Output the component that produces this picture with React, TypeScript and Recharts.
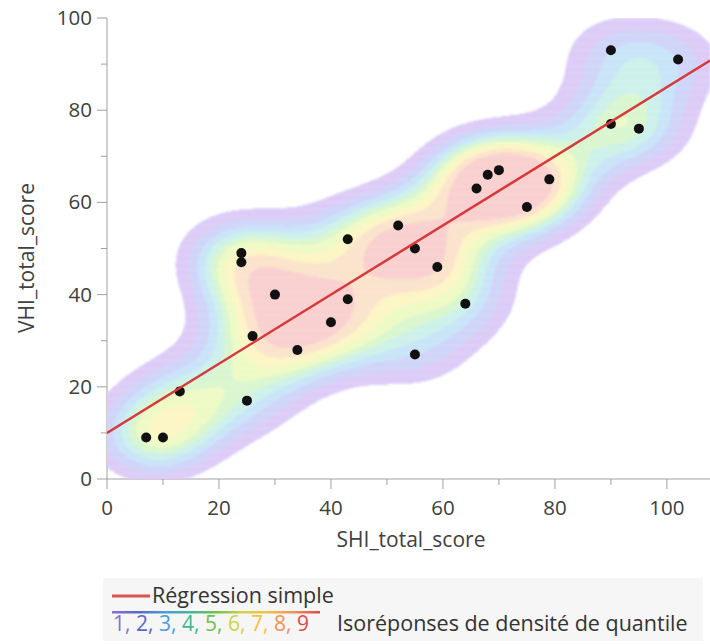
import { ScatterChart, Scatter, XAxis, YAxis } from 'recharts';

// SHI vs VHI scores
const SHI_SCORES = [7, 10, 13, 25, 24, 24, 26, 30, 34, 40, 43, 43, 52, 55, 55, 59, 64, 66, 68, 70, 75, 79, 90, 102, 90, 95];
const VHI_SCORES = [9, 9, 19, 17, 47, 49, 31, 40, 28, 34, 39, 52, 55, 50, 27, 46, 38, 63, 66, 67, 59, 65, 93, 91, 77, 76];

// simple regression line as drawn
const REG_INTERCEPT = 10;
const REG_SLOPE = 0.75;

const X_MAX = 107.7;
const Y_MAX = 100;
const X_TICKS = [0, 10, 20, 30, 40, 50, 60, 70, 80, 90, 100];
const Y_TICKS = [0, 10, 20, 30, 40, 50, 60, 70, 80, 90, 100];

// quantile density contour levels 1..9
const CONTOUR_LEVELS = [1, 2, 3, 4, 5, 6, 7, 8, 9];
const MASS_FRACTIONS = [0.86, 0.78, 0.7, 0.62, 0.54, 0.46, 0.38, 0.3, 0.2];
const LEVEL_FILLS = ['#dccbf7', '#cfd4f9', '#c9e4f8', '#cdf1ea', '#d9f6cf', '#eefac5', '#fcf5c4', '#fbe3cc', '#f9cfcf'];
const LEVEL_TEXT = ['#8b6fd6', '#5a68c4', '#4f9bd8', '#45b59a', '#72c24c', '#cfd24a', '#f0c24a', '#f0915a', '#e04848'];

const BW_X = 8.5;
const BW_Y = 7.5;

const W = 710;
const H = 644;
const LEFT = 107;
const TOP = 18;
const AXIS_Y = 479;
const PX_X = (W - LEFT) / X_MAX;
const PX_Y = (AXIS_Y - TOP) / Y_MAX;
const FONT = "'Open Sans', sans-serif";

const points = SHI_SCORES.map((x, i) => ({ x, y: VHI_SCORES[i] }));

function density(x: number, y: number) {
  let s = 0;
  for (const p of points) {
    const dx = (x - p.x) / BW_X;
    const dy = (y - p.y) / BW_Y;
    s += Math.exp(-0.5 * (dx * dx + dy * dy));
  }
  return s;
}

function thresholds() {
  const vals: number[] = [];
  for (let x = -50; x <= 160; x += 1) {
    for (let y = -50; y <= 150; y += 1) vals.push(density(x, y));
  }
  vals.sort((a, b) => b - a);
  const total = vals.reduce((a, b) => a + b, 0);
  return MASS_FRACTIONS.map((f) => {
    let acc = 0;
    for (const v of vals) {
      acc += v;
      if (acc >= f * total) return v;
    }
    return 0;
  });
}

const DX = 0.2;
const DY = 0.25;

function buildCells() {
  const th = thresholds();
  const cells: { x: number; y: number; w: number; level: number }[] = [];
  const nx = Math.ceil(X_MAX / DX);
  for (let y = DY / 2; y < Y_MAX; y += DY) {
    let runStart = 0;
    let runLevel = -1;
    for (let i = 0; i <= nx; i++) {
      let level = -2;
      if (i < nx) {
        const d = density(i * DX + DX / 2, y);
        level = 0;
        for (const lv of CONTOUR_LEVELS) if (d >= th[lv - 1]) level = lv;
      }
      if (level !== runLevel) {
        if (runLevel > 0) {
          const x0 = runStart * DX;
          const x1 = Math.min(i * DX, X_MAX);
          cells.push({ x: (x0 + x1) / 2, y, w: x1 - x0, level: runLevel });
        }
        runStart = i;
        runLevel = level;
      }
    }
  }
  return cells;
}

const cells = buildCells();
const regLine = [
  { x: 0, y: REG_INTERCEPT },
  { x: X_MAX, y: REG_INTERCEPT + REG_SLOPE * X_MAX },
];

const CellShape = (props: any) => {
  const { cx, cy, payload } = props;
  const w = payload.w * PX_X;
  const h = DY * PX_Y;
  return <rect x={cx - w / 2} y={cy - h / 2} width={w + 0.4} height={h + 0.4} fill={LEVEL_FILLS[payload.level - 1]} />;
};

const Dot = (props: any) => <circle cx={props.cx} cy={props.cy} r={5} fill="#111" />;
const NoDot = () => <g />;

const XTick = (props: any) => {
  const { x, y, payload } = props;
  const major = payload.value % 20 === 0;
  return (
    <g>
      <line x1={x} x2={x} y1={y} y2={y + (major ? 10 : 6)} stroke="#a0a0a0" />
      {major && (
        <text x={x} y={y + 36} textAnchor="middle" fontSize={20.5} fill="#404040" fontFamily={FONT}>
          {payload.value}
        </text>
      )}
    </g>
  );
};

const YTick = (props: any) => {
  const { x, y, payload } = props;
  const major = payload.value % 20 === 0;
  return (
    <g>
      <line x1={x} x2={x - (major ? 10 : 6)} y1={y} y2={y} stroke="#a0a0a0" />
      {major && (
        <text x={x - 15} y={y + 7} textAnchor="end" fontSize={20.5} fill="#404040" fontFamily={FONT}>
          {payload.value}
        </text>
      )}
    </g>
  );
};

export default function App() {
  return (
    <div style={{ position: 'absolute', left: 0, top: 0, width: W, height: H, background: '#fff' }}>
      <style>{'.density-cells { filter: blur(1.2px); }'}</style>
      <ScatterChart width={W} height={H} margin={{ top: TOP, right: 0, bottom: 105, left: 0 }}>
        <XAxis
          type="number"
          dataKey="x"
          domain={[0, X_MAX]}
          ticks={X_TICKS}
          allowDataOverflow
          height={60}
          tickSize={0}
          tickMargin={0}
          tick={<XTick />}
          axisLine={{ stroke: '#a0a0a0' }}
          interval={0}
        />
        <XAxis
          xAxisId="frame"
          orientation="top"
          type="number"
          domain={[0, X_MAX]}
          allowDataOverflow
          height={0}
          tick={false}
          tickLine={false}
          axisLine={{ stroke: '#a8a8a8' }}
        />
        <YAxis
          type="number"
          dataKey="y"
          domain={[0, Y_MAX]}
          ticks={Y_TICKS}
          allowDataOverflow
          width={LEFT}
          tickSize={0}
          tickMargin={0}
          tick={<YTick />}
          axisLine={{ stroke: '#a0a0a0' }}
          interval={0}
        />
        <Scatter data={cells} shape={<CellShape />} className="density-cells" isAnimationActive={false} />
        <Scatter data={points} shape={<Dot />} isAnimationActive={false} />
        <Scatter data={regLine} shape={<NoDot />} line={{ stroke: '#d63a3a', strokeWidth: 2.5 }} isAnimationActive={false} />
      </ScatterChart>
      <svg width={W} height={H} style={{ position: 'absolute', left: 0, top: 0, pointerEvents: 'none' }}>
        <text x={411} y={547} textAnchor="middle" fontSize={21} fill="#404040" fontFamily={FONT}>
          SHI_total_score
        </text>
        <text x={34} y={258} textAnchor="middle" fontSize={21} fill="#404040" fontFamily={FONT} transform="rotate(-90 34 258)">
          VHI_total_score
        </text>
        <rect x={103} y={578} width={600} height={63} fill="#f6f6f6" />
        <line x1={112} x2={150} y1={596} y2={596} stroke="#d9534f" strokeWidth={3} />
        <text x={152} y={603} fontSize={21.5} fill="#333" fontFamily={FONT}>
          Régression simple
        </text>
        <defs>
          <linearGradient id="rainbow" x1="0" x2="1" y1="0" y2="0">
            {LEVEL_TEXT.map((c, i) => (
              <stop key={i} offset={i / (LEVEL_TEXT.length - 1)} stopColor={c} />
            ))}
          </linearGradient>
        </defs>
        <rect x={112} y={611} width={208} height={2.5} fill="url(#rainbow)" />
        {CONTOUR_LEVELS.map((lv, i) => (
          <text key={lv} x={113 + i * 23} y={631} fontSize={21} fill={LEVEL_TEXT[i]} fontFamily={FONT}>
            {lv}
            {lv < 9 ? ',' : ''}
          </text>
        ))}
        <text x={337} y={631} fontSize={21.5} fill="#333" fontFamily={FONT}>
          Isoréponses de densité de quantile
        </text>
      </svg>
    </div>
  );
}
